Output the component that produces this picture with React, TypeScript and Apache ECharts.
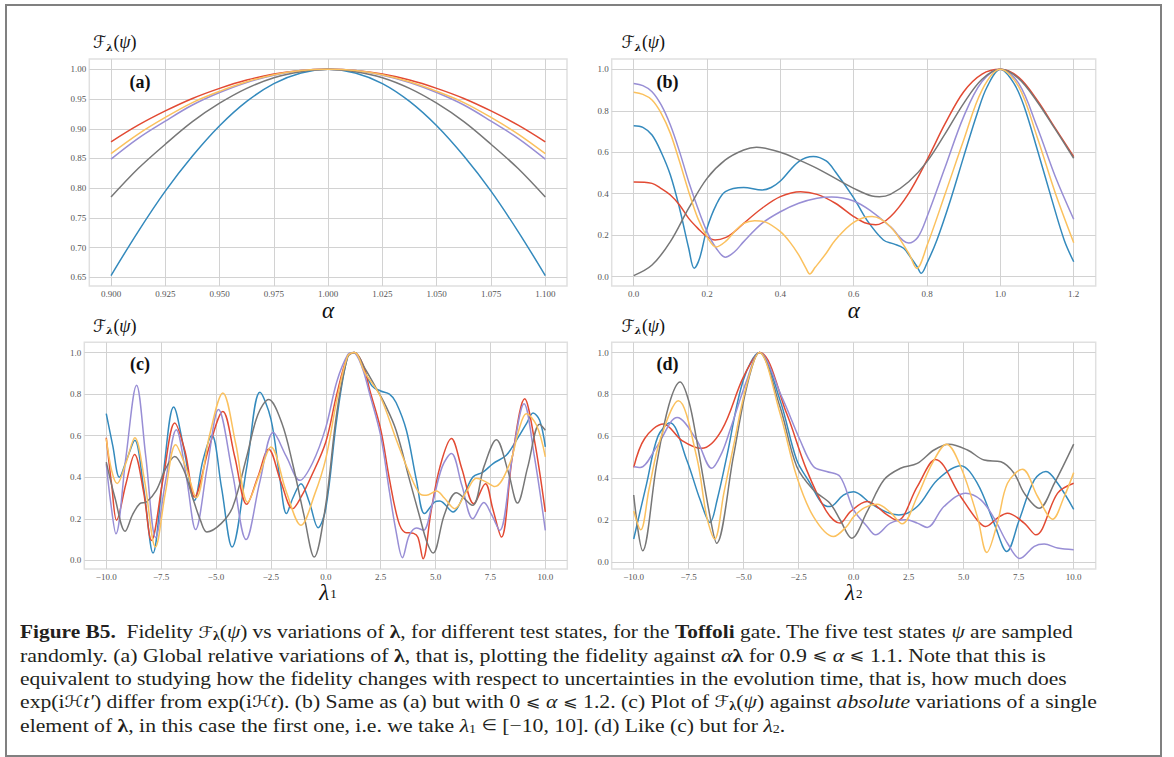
import React, { useEffect, useRef } from 'react';
import * as echarts from 'echarts';

const BLUE = '#348ABD';
const RED = '#E24A33';
const PURPLE = '#988ED5';
const GRAY = '#777777';
const YELLOW = '#FBC15E';

// ---------- panel (a) ----------
const alphaA = [0.9, 0.9125, 0.925, 0.9375, 0.95, 0.9625, 0.975, 0.9875, 1.0, 1.0125, 1.025, 1.0375, 1.05, 1.0625, 1.075, 1.0875, 1.1];
const aBlue = [0.653, 0.727, 0.795, 0.854, 0.905, 0.946, 0.976, 0.994, 1.0, 0.994, 0.976, 0.946, 0.905, 0.854, 0.795, 0.727, 0.653];
const aRed = [0.878, 0.906, 0.93, 0.951, 0.968, 0.982, 0.992, 0.998, 1.0, 0.998, 0.992, 0.982, 0.968, 0.951, 0.93, 0.906, 0.878];
const aYellow = [0.858, 0.891, 0.919, 0.944, 0.963, 0.979, 0.991, 0.998, 1.0, 0.998, 0.991, 0.979, 0.963, 0.944, 0.919, 0.891, 0.858];
const aPurple = [0.849, 0.884, 0.913, 0.94, 0.961, 0.978, 0.99, 0.998, 1.0, 0.998, 0.99, 0.978, 0.961, 0.94, 0.913, 0.884, 0.849];
const aGray = [0.785, 0.833, 0.874, 0.912, 0.943, 0.968, 0.986, 0.996, 1.0, 0.996, 0.986, 0.968, 0.943, 0.912, 0.874, 0.833, 0.785];
const aXTicks = [0.9, 0.925, 0.95, 0.975, 1.0, 1.025, 1.05, 1.075, 1.1];
const aYTicks = [0.65, 0.7, 0.75, 0.8, 0.85, 0.9, 0.95, 1.0];

// ---------- panel (b) ----------
const bBlue = [[0, 0.728], [0.025, 0.72], [0.05, 0.683], [0.075, 0.6], [0.1, 0.49], [0.125, 0.33], [0.15, 0.137], [0.165, 0.04], [0.18, 0.09], [0.2, 0.233], [0.225, 0.346], [0.25, 0.41], [0.3, 0.43], [0.35, 0.418], [0.375, 0.43], [0.4, 0.461], [0.45, 0.555], [0.49, 0.58], [0.525, 0.558], [0.55, 0.506], [0.6, 0.38], [0.636, 0.273], [0.681, 0.177], [0.709, 0.158], [0.736, 0.137], [0.754, 0.096], [0.773, 0.048], [0.784, 0.016], [0.8, 0.066], [0.827, 0.177], [0.864, 0.37], [0.9, 0.579], [0.937, 0.788], [0.964, 0.916], [1.0, 1.0], [1.037, 0.932], [1.065, 0.82], [1.101, 0.611], [1.138, 0.386], [1.174, 0.177], [1.2, 0.072]];
const bRed = [[0, 0.457], [0.05, 0.45], [0.075, 0.425], [0.1, 0.394], [0.125, 0.346], [0.15, 0.281], [0.175, 0.233], [0.2, 0.193], [0.222, 0.177], [0.25, 0.188], [0.275, 0.217], [0.3, 0.257], [0.35, 0.33], [0.4, 0.386], [0.455, 0.41], [0.5, 0.397], [0.55, 0.354], [0.6, 0.29], [0.63, 0.26], [0.66, 0.25], [0.7, 0.289], [0.75, 0.402], [0.8, 0.563], [0.85, 0.74], [0.9, 0.892], [0.95, 0.977], [1.0, 1.0], [1.05, 0.961], [1.1, 0.852], [1.15, 0.715], [1.2, 0.579]];
const bGray = [[0, 0.005], [0.05, 0.056], [0.1, 0.169], [0.15, 0.33], [0.2, 0.474], [0.25, 0.563], [0.3, 0.611], [0.335, 0.624], [0.4, 0.6], [0.45, 0.563], [0.5, 0.522], [0.55, 0.474], [0.6, 0.426], [0.65, 0.389], [0.67, 0.386], [0.7, 0.397], [0.75, 0.458], [0.8, 0.555], [0.85, 0.691], [0.9, 0.836], [0.95, 0.952], [1.0, 1.0], [1.05, 0.955], [1.1, 0.845], [1.15, 0.71], [1.2, 0.571]];
const bPurple = [[0, 0.931], [0.025, 0.921], [0.05, 0.892], [0.075, 0.828], [0.1, 0.731], [0.125, 0.603], [0.15, 0.458], [0.175, 0.33], [0.2, 0.217], [0.225, 0.137], [0.25, 0.094], [0.275, 0.12], [0.3, 0.169], [0.35, 0.257], [0.4, 0.313], [0.45, 0.354], [0.5, 0.378], [0.54, 0.384], [0.6, 0.365], [0.65, 0.313], [0.7, 0.241], [0.75, 0.162], [0.775, 0.19], [0.8, 0.289], [0.85, 0.531], [0.9, 0.772], [0.95, 0.941], [1.0, 1.0], [1.05, 0.932], [1.1, 0.723], [1.15, 0.482], [1.2, 0.277]];
const bYellow = [[0, 0.889], [0.025, 0.879], [0.05, 0.852], [0.075, 0.788], [0.1, 0.691], [0.125, 0.555], [0.15, 0.41], [0.175, 0.281], [0.2, 0.193], [0.225, 0.143], [0.25, 0.169], [0.275, 0.217], [0.3, 0.257], [0.33, 0.27], [0.36, 0.263], [0.4, 0.217], [0.425, 0.169], [0.45, 0.105], [0.47, 0.04], [0.48, 0.013], [0.495, 0.045], [0.525, 0.113], [0.55, 0.177], [0.6, 0.262], [0.65, 0.29], [0.7, 0.241], [0.75, 0.113], [0.772, 0.04], [0.8, 0.15], [0.85, 0.402], [0.9, 0.659], [0.95, 0.9], [1.0, 1.0], [1.05, 0.916], [1.1, 0.675], [1.15, 0.402], [1.2, 0.164]];
const bXTicks = [0, 0.2, 0.4, 0.6, 0.8, 1.0, 1.2];
const bYTicks = [0, 0.2, 0.4, 0.6, 0.8, 1.0];

// ---------- panel (c) ----------
const cBlue = [[-10, 0.706], [-9.7, 0.55], [-9.4, 0.4], [-9.05, 0.49], [-8.7, 0.578], [-8.3, 0.35], [-7.87, 0.035], [-7.4, 0.42], [-6.93, 0.738], [-6.45, 0.53], [-5.98, 0.289], [-5.6, 0.48], [-5.19, 0.602], [-4.75, 0.35], [-4.27, 0.064], [-3.6, 0.45], [-3.0, 0.809], [-2.5, 0.68], [-2.1, 0.4], [-1.79, 0.225], [-1.5, 0.3], [-1.13, 0.369], [-0.75, 0.28], [-0.35, 0.157], [0, 0.25], [0.5, 0.68], [1.0, 0.985], [1.3, 1.0], [1.7, 0.93], [2.1, 0.84], [2.5, 0.815], [2.9, 0.8], [3.2, 0.76], [3.67, 0.626], [4.13, 0.385], [4.5, 0.225], [4.96, 0.281], [5.19, 0.286], [5.8, 0.233], [6.25, 0.305], [6.7, 0.401], [7.16, 0.425], [7.62, 0.466], [8.22, 0.506], [8.68, 0.578], [9.14, 0.658], [9.44, 0.709], [9.74, 0.674], [10, 0.546]];
const cRed = [[-10, 0.59], [-9.75, 0.36], [-9.53, 0.193], [-9.1, 0.37], [-8.71, 0.51], [-8.3, 0.33], [-7.94, 0.096], [-7.4, 0.4], [-6.88, 0.661], [-6.4, 0.52], [-5.98, 0.305], [-5.3, 0.55], [-4.69, 0.717], [-4.15, 0.5], [-3.6, 0.27], [-3.1, 0.4], [-2.6, 0.535], [-2.05, 0.38], [-1.51, 0.249], [-1.1, 0.31], [-0.68, 0.4], [0, 0.57], [0.5, 0.8], [1.0, 0.985], [1.3, 1.0], [1.7, 0.94], [2.0, 0.82], [2.5, 0.63], [2.9, 0.39], [3.3, 0.19], [3.6, 0.135], [4.0, 0.13], [4.2, 0.11], [4.43, 0.008], [4.8, 0.24], [5.2, 0.45], [5.72, 0.586], [6.2, 0.44], [6.74, 0.273], [7.27, 0.369], [7.6, 0.25], [8.0, 0.112], [8.5, 0.5], [9.06, 0.778], [9.5, 0.58], [10, 0.233]];
const cPurple = [[-10, 0.465], [-9.8, 0.28], [-9.56, 0.128], [-9.1, 0.5], [-8.62, 0.843], [-8.2, 0.5], [-7.75, 0.11], [-7.3, 0.38], [-6.81, 0.629], [-6.35, 0.4], [-5.93, 0.148], [-5.4, 0.45], [-4.89, 0.726], [-4.25, 0.42], [-3.63, 0.1], [-3.0, 0.38], [-2.39, 0.615], [-1.8, 0.5], [-1.18, 0.385], [-0.6, 0.47], [0, 0.64], [0.5, 0.86], [1.0, 0.99], [1.25, 1.0], [1.65, 0.93], [2.0, 0.8], [2.5, 0.6], [2.9, 0.33], [3.2, 0.14], [3.49, 0.013], [3.8, 0.12], [4.13, 0.156], [4.45, 0.145], [4.8, 0.25], [5.3, 0.45], [5.72, 0.514], [6.2, 0.36], [6.7, 0.2], [7.2, 0.278], [7.55, 0.22], [7.92, 0.144], [8.5, 0.5], [9.03, 0.754], [9.5, 0.5], [10, 0.144]];
const cYellow = [[-10, 0.586], [-9.75, 0.43], [-9.5, 0.37], [-9.1, 0.47], [-8.7, 0.59], [-8.25, 0.38], [-7.76, 0.064], [-7.3, 0.33], [-6.84, 0.557], [-6.35, 0.44], [-5.9, 0.302], [-5.3, 0.6], [-4.69, 0.806], [-4.1, 0.56], [-3.56, 0.28], [-3.0, 0.42], [-2.5, 0.546], [-1.8, 0.33], [-1.13, 0.169], [-0.5, 0.32], [0, 0.49], [0.5, 0.77], [1.0, 0.985], [1.3, 1.0], [1.8, 0.9], [2.46, 0.795], [3.22, 0.578], [3.82, 0.417], [4.28, 0.321], [4.58, 0.313], [5.04, 0.334], [5.4, 0.3], [5.87, 0.249], [6.4, 0.33], [6.86, 0.395], [7.25, 0.38], [7.7, 0.355], [8.38, 0.466], [8.8, 0.63], [9.13, 0.706], [9.6, 0.65], [10, 0.498]];
const cGray = [[-10, 0.473], [-9.6, 0.3], [-9.14, 0.14], [-8.8, 0.22], [-8.47, 0.273], [-8.17, 0.281], [-7.72, 0.337], [-7.3, 0.44], [-6.88, 0.5], [-6.45, 0.43], [-6.05, 0.297], [-5.7, 0.19], [-5.42, 0.137], [-4.77, 0.177], [-4.24, 0.257], [-3.6, 0.5], [-3.1, 0.7], [-2.6, 0.774], [-2.0, 0.66], [-1.51, 0.465], [-1.0, 0.22], [-0.53, 0.016], [0, 0.27], [0.5, 0.71], [1.0, 0.98], [1.3, 1.0], [1.8, 0.92], [2.3, 0.827], [2.7, 0.75], [3.2, 0.626], [3.82, 0.385], [4.28, 0.209], [4.6, 0.09], [4.89, 0.035], [5.4, 0.22], [5.95, 0.326], [6.68, 0.265], [7.2, 0.45], [7.77, 0.581], [8.3, 0.43], [8.73, 0.276], [9.2, 0.45], [9.74, 0.655], [10, 0.626]];

// ---------- panel (d) ----------
const dBlue = [[-10, 0.11], [-9.41, 0.376], [-8.9, 0.6], [-8.35, 0.665], [-7.59, 0.487], [-6.98, 0.297], [-6.53, 0.189], [-6.2, 0.3], [-5.77, 0.503], [-5.02, 0.868], [-4.29, 1.0], [-3.35, 0.773], [-2.59, 0.487], [-1.98, 0.376], [-1.45, 0.281], [-1.08, 0.265], [-0.47, 0.32], [0, 0.336], [0.76, 0.281], [1.52, 0.237], [2.05, 0.225], [2.89, 0.265], [3.8, 0.392], [4.86, 0.46], [5.62, 0.376], [6.38, 0.186], [6.96, 0.051], [7.52, 0.2], [8.21, 0.392], [8.74, 0.432], [9.27, 0.376], [10, 0.252]];
const dRed = [[-10, 0.452], [-9.5, 0.59], [-8.65, 0.659], [-7.8, 0.58], [-6.91, 0.543], [-6.0, 0.63], [-5.0, 0.886], [-4.26, 1.0], [-3.05, 0.71], [-2.14, 0.44], [-1.23, 0.241], [-0.62, 0.186], [-0.15, 0.241], [0.61, 0.289], [1.52, 0.225], [1.98, 0.198], [2.89, 0.36], [3.72, 0.49], [4.86, 0.313], [5.62, 0.2], [6.0, 0.17], [6.53, 0.21], [6.99, 0.233], [7.75, 0.186], [8.28, 0.13], [9.27, 0.329], [10, 0.376]];
const dGray = [[-10, 0.32], [-9.59, 0.054], [-8.95, 0.471], [-8.4, 0.75], [-7.89, 0.86], [-7.5, 0.77], [-7.14, 0.583], [-6.53, 0.217], [-6.23, 0.09], [-5.47, 0.503], [-4.86, 0.837], [-4.29, 1.0], [-3.35, 0.741], [-2.59, 0.456], [-1.83, 0.344], [-1.08, 0.281], [-0.62, 0.202], [-0.09, 0.114], [0.61, 0.241], [1.37, 0.392], [2.13, 0.448], [2.89, 0.471], [3.65, 0.535], [4.33, 0.563], [5.17, 0.535], [5.93, 0.487], [6.69, 0.479], [7.29, 0.424], [7.75, 0.329], [8.43, 0.257], [9.12, 0.376], [10, 0.563]];
const dYellow = [[-10, 0.244], [-9.68, 0.154], [-9.3, 0.35], [-8.8, 0.583], [-7.97, 0.77], [-7.14, 0.503], [-6.68, 0.217], [-6.32, 0.11], [-5.9, 0.33], [-5.47, 0.551], [-4.86, 0.85], [-4.29, 1.0], [-3.35, 0.71], [-2.59, 0.408], [-1.83, 0.217], [-0.92, 0.122], [-0.32, 0.17], [0, 0.217], [0.5, 0.26], [1.06, 0.276], [1.67, 0.237], [2.2, 0.183], [2.89, 0.313], [3.57, 0.471], [4.22, 0.563], [4.86, 0.456], [5.62, 0.217], [6.05, 0.046], [6.53, 0.186], [6.99, 0.376], [7.67, 0.443], [8.36, 0.313], [9.04, 0.205], [9.57, 0.313], [10, 0.427]];
const dPurple = [[-10, 0.456], [-9.71, 0.451], [-8.95, 0.551], [-8.02, 0.69], [-7.14, 0.583], [-6.45, 0.448], [-6.0, 0.52], [-5.62, 0.63], [-4.86, 0.868], [-4.29, 1.0], [-3.27, 0.789], [-2.44, 0.583], [-1.83, 0.456], [-1.23, 0.432], [-0.62, 0.408], [0, 0.249], [0.61, 0.17], [0.99, 0.13], [1.67, 0.186], [2.36, 0.202], [2.89, 0.186], [3.34, 0.165], [4.1, 0.265], [5.09, 0.329], [5.78, 0.297], [6.38, 0.21], [6.99, 0.09], [7.55, 0.017], [8.21, 0.075], [8.66, 0.086], [9.27, 0.067], [10, 0.059]];
const cdXTicks = [-10, -7.5, -5, -2.5, 0, 2.5, 5, 7.5, 10];
const cdYTicks = [0, 0.2, 0.4, 0.6, 0.8, 1.0];

const captionLines = [
  '{b|Figure B5.}  Fidelity {F|ℱ}{sb|λ}({i|ψ}) vs variations of {bl|λ}, for different test states, for the {b|Toffoli} gate. The five test states {i|ψ} are sampled',
  'randomly. (a) Global relative variations of {bl|λ}, that is, plotting the fidelity against {i|α}{bl|λ} for 0.9 {m|⩽} {i|α} {m|⩽} 1.1. Note that this is',
  'equivalent to studying how the fidelity changes with respect to uncertainties in the evolution time, that is, how much does',
  'exp(i{F|ℋ}{i|t′}) differ from exp(i{F|ℋ}{i|t}). (b) Same as (a) but with 0 {m|⩽} {i|α} {m|⩽} 1.2. (c) Plot of {F|ℱ}{sb|λ}({i|ψ}) against {i|absolute} variations of a single',
  'element of {bl|λ}, in this case the first one, i.e. we take {i|λ}{sub|1} {m|∈} [−10, 10]. (d) Like (c) but for {i|λ}{sub|2}.',
];

const fmt = (v: number, d: number) => v.toFixed(d).replace('-', '−');

const LABEL_FONT = "'Liberation Serif', serif";
const MATH_FONT = "'DejaVu Serif', 'DejaVu Sans', serif";

function mkAxis(gridIndex: number, min: number, max: number, ticks: number[], dec: number) {
  return {
    type: 'value', gridIndex, min, max,
    axisLine: { show: false },
    axisTick: { show: false, customValues: ticks },
    splitLine: { show: true, lineStyle: { color: '#d2d2d2', width: 1 } },
    axisLabel: { customValues: ticks, formatter: (v: number) => fmt(v, dec), margin: 3, color: '#555', fontFamily: LABEL_FONT, fontSize: 9 },
  };
}

function line(idx: number, data: any[], color: string) {
  return {
    type: 'line', xAxisIndex: idx, yAxisIndex: idx, data, smooth: 0.35,
    symbol: 'none', showSymbol: false, silent: true, clip: true,
    lineStyle: { color, width: 1.5 }, itemStyle: { color },
  };
}

const zipA = (ys: number[]) => alphaA.map((a, i) => [a, ys[i]]);

function yTitle(x: number, y: number) {
  return {
    type: 'text', x, y,
    style: {
      text: '{f|ℱ}{s|λ}{p|(}{q|ψ}{p|)}',
      align: 'left', verticalAlign: 'middle', textAlign: 'left', textVerticalAlign: 'middle',
      fill: '#111',
      rich: {
        f: { fontFamily: MATH_FONT, fontSize: 17, lineHeight: 20, fill: '#111' },
        s: { fontFamily: MATH_FONT, fontSize: 10, fontWeight: 'bold', fontStyle: 'italic', lineHeight: 12, verticalAlign: 'bottom', fill: '#111' },
        p: { fontFamily: "'Liberation Serif', serif", fontSize: 18, lineHeight: 20, fill: '#111' },
        q: { fontFamily: "'Liberation Serif', serif", fontStyle: 'italic', fontSize: 18, lineHeight: 20, fill: '#111' },
      },
    },
  };
}
function panelLabel(x: number, y: number, t: string) {
  return {
    type: 'text', x, y,
    style: { text: t, fontFamily: "'Liberation Serif', serif", fontWeight: 'bold', fontSize: 18, fill: '#111', align: 'center', verticalAlign: 'middle', textAlign: 'center', textVerticalAlign: 'middle' },
  };
}
function xTitle(x: number, y: number, main: string, sub: string) {
  return {
    type: 'text', x, y,
    style: {
      text: sub ? `{l|${main}}{s|${sub}}` : `{l|${main}}`,
      align: 'center', verticalAlign: 'middle', textAlign: 'center', textVerticalAlign: 'middle',
      rich: {
        l: { fontFamily: "'Liberation Serif', serif", fontStyle: 'italic', fontSize: 23, lineHeight: 16, fill: '#111' },
        s: { fontFamily: "'Liberation Serif', serif", fontSize: 13, lineHeight: 1, verticalAlign: 'bottom', fill: '#111', padding: [0, 0, 0, 1] },
      },
    },
  };
}

const CAP_SIZE = 18.5;
const capRich = {
  b: { fontFamily: LABEL_FONT, fontWeight: 'bold', fontSize: CAP_SIZE, lineHeight: 20, fill: '#231f20' },
  i: { fontFamily: LABEL_FONT, fontStyle: 'italic', fontSize: CAP_SIZE, lineHeight: 20, fill: '#231f20' },
  bl: { fontFamily: LABEL_FONT, fontWeight: 'bold', fontSize: CAP_SIZE, lineHeight: 20, fill: '#231f20' },
  F: { fontFamily: MATH_FONT, fontSize: 16, lineHeight: 20, fill: '#231f20' },
  sb: { fontFamily: LABEL_FONT, fontWeight: 'bold', fontSize: 12, lineHeight: 10, verticalAlign: 'bottom', fill: '#231f20' },
  sub: { fontFamily: LABEL_FONT, fontSize: 12, lineHeight: 8, verticalAlign: 'bottom', fill: '#231f20' },
  m: { fontFamily: "'DejaVu Sans', sans-serif", fontSize: 15, lineHeight: 20, fill: '#231f20' },
};
const capY = [632, 655.3, 678.6, 701.9, 725.2];
const capScale = [1.156, 1.181, 1.163, 1.174, 1.173];

export default function App() {
  const ref = useRef<HTMLDivElement>(null);
  useEffect(() => {
    if (!ref.current) return;
    const chart = echarts.init(ref.current, null, { renderer: 'svg' });
    const gridBase = { show: true, borderColor: '#e0e0e0', borderWidth: 1.5, backgroundColor: 'transparent', containLabel: false, outerBoundsMode: 'none' };
    const option: any = {
      animation: false,
      backgroundColor: '#ffffff',
      grid: [
        { ...gridBase, left: 89.3, top: 59, width: 477.7, height: 227 },
        { ...gridBase, left: 611.7, top: 59, width: 484, height: 227 },
        { ...gridBase, left: 84.3, top: 342.3, width: 483, height: 226.7 },
        { ...gridBase, left: 611.7, top: 342.3, width: 484, height: 226.7 },
      ],
      xAxis: [
        mkAxis(0, 0.89, 1.11, aXTicks, 3),
        mkAxis(1, -0.06, 1.26, bXTicks, 1),
        mkAxis(2, -11, 11, cdXTicks, 1),
        mkAxis(3, -11, 11, cdXTicks, 1),
      ],
      yAxis: [
        mkAxis(0, 0.6354, 1.0174, aYTicks, 2),
        mkAxis(1, -0.045, 1.0497, bYTicks, 1),
        mkAxis(2, -0.0416, 1.0496, cdYTicks, 1),
        mkAxis(3, -0.033, 1.049, cdYTicks, 1),
      ],
      series: [
        line(0, zipA(aBlue), BLUE), line(0, zipA(aRed), RED), line(0, zipA(aPurple), PURPLE), line(0, zipA(aGray), GRAY), line(0, zipA(aYellow), YELLOW),
        line(1, bBlue, BLUE), line(1, bRed, RED), line(1, bPurple, PURPLE), line(1, bGray, GRAY), line(1, bYellow, YELLOW),
        line(2, cBlue, BLUE), line(2, cRed, RED), line(2, cPurple, PURPLE), line(2, cGray, GRAY), line(2, cYellow, YELLOW),
        line(3, dBlue, BLUE), line(3, dRed, RED), line(3, dPurple, PURPLE), line(3, dGray, GRAY), line(3, dYellow, YELLOW),
      ],
      graphic: [
        { type: 'rect', shape: { x: 6, y: 5, width: 1155, height: 751 }, style: { fill: 'none', stroke: '#808080', lineWidth: 2 }, silent: true },
        yTitle(93, 42), yTitle(621.5, 42), yTitle(93, 325.5), yTitle(621.5, 325.5),
        panelLabel(140, 81.7, '(a)'), panelLabel(667.5, 81.7, '(b)'), panelLabel(140, 364, '(c)'), panelLabel(667.5, 364, '(d)'),
        xTitle(328, 310, 'α', ''), xTitle(853.7, 310, 'α', ''), xTitle(328, 592, 'λ', '1'), xTitle(853.7, 592, 'λ', '2'),
        ...captionLines.map((t, i) => ({
          type: 'text', x: 20, y: capY[i], scaleX: capScale[i], scaleY: 1,
          style: {
            text: t, fontFamily: LABEL_FONT, fontSize: CAP_SIZE, lineHeight: 20, fill: '#231f20',
            align: 'left', verticalAlign: 'middle', textAlign: 'left', textVerticalAlign: 'middle',
            rich: capRich,
          },
        })),
      ],
    };
    chart.setOption(option);
    return () => chart.dispose();
  }, []);
  return <div ref={ref} style={{ position: 'fixed', left: 0, top: 0, width: 1174, height: 757, background: '#fff' }} />;
}
